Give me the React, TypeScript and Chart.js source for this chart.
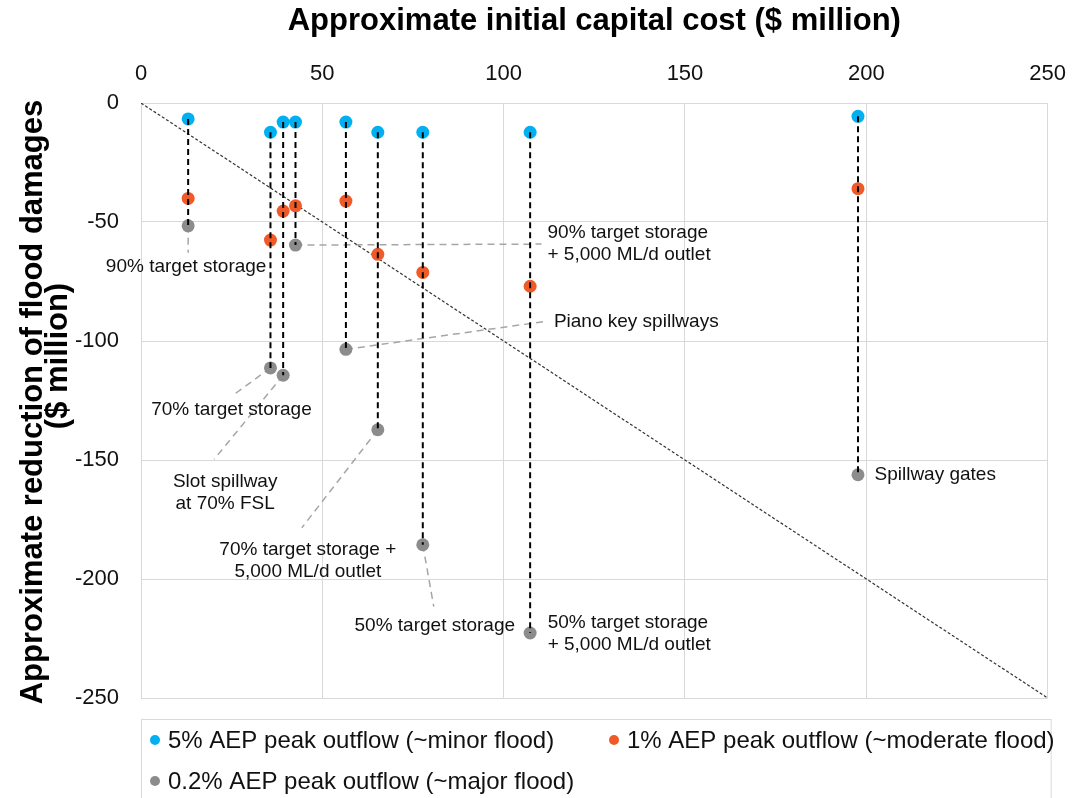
import React, { useEffect, useRef } from "react";
import { Chart, registerables } from "chart.js";

Chart.register(...registerables);

// ---- Data ----
const optionCost = [13, 35.7, 39.2, 42.6, 56.5, 65.3, 77.7, 107.3, 197.7];
const minorFlood = [-6.7, -12.3, -8, -8, -8, -12.3, -12.3, -12.3, -5.6];
const moderateFlood = [-40.1, -57.6, -45.4, -43.2, -41.2, -63.6, -71.2, -77, -36];
const majorFlood = [-51.6, -111.3, -114.4, -59.7, -103.5, -137.3, -185.6, -222.7, -156.2];
const optionNames = [
  "90% target storage",
  "70% target storage",
  "Slot spillway\nat 70% FSL",
  "90% target storage\n+ 5,000 ML/d outlet",
  "Piano key spillways",
  "70% target storage +\n5,000 ML/d outlet",
  "50% target storage",
  "50% target storage\n+ 5,000 ML/d outlet",
  "Spillway gates",
];
const seriesLabels = [
  "5% AEP peak outflow (~minor flood)",
  "1% AEP peak outflow (~moderate flood)",
  "0.2% AEP peak outflow (~major flood)",
];
const breakEvenX = [0, 250];
const breakEvenY = [0, -250];
const xTitle = "Approximate initial capital cost ($ million)";
const yTitle = ["Approximate reduction of flood damages", "($ million)"];

// ---- Layout / style (not data) ----
const FONT = "'Liberation Sans', Arial, sans-serif";
const COLORS = ["#00b0f0", "#f05a28", "#8c8c8c"];
const yTitlePos = [
  { x: 33, y: 402 },
  { x: 58, y: 356 },
];
const labelLayout: { dx: number; dy: number; align: CanvasTextAlign; leader?: [number, number] }[] = [
  { dx: -2, dy: 41, align: "center", leader: [0, 27] },
  { dx: -39, dy: 42, align: "center", leader: [-37, 27] },
  { dx: -58, dy: 106, align: "center", leader: [-69, 84] },
  { dx: 252, dy: -12.5, align: "left", leader: [246, -1] },
  { dx: 208, dy: -28, align: "left", leader: [200, -28] },
  { dx: -70, dy: 120, align: "center", leader: [-76, 98] },
  { dx: 12, dy: 81, align: "center", leader: [11, 62] },
  { dx: 17.5, dy: -10.5, align: "left" },
  { dx: 16.5, dy: 0, align: "left" },
];

const annotationPlugin = {
  id: "annotations",
  beforeDatasetsDraw(chart: any) {
    const { ctx, scales } = chart;
    const x = scales.x, y = scales.y;
    ctx.save();
    ctx.strokeStyle = "#a6a6a6";
    ctx.lineWidth = 1.5;
    ctx.setLineDash([7, 5]);
    labelLayout.forEach((l, i) => {
      if (!l.leader) return;
      const px = x.getPixelForValue(optionCost[i]);
      const py = y.getPixelForValue(majorFlood[i]);
      ctx.beginPath();
      ctx.moveTo(px, py);
      ctx.lineTo(px + l.leader[0], py + l.leader[1]);
      ctx.stroke();
    });
    ctx.restore();
  },
  afterDatasetsDraw(chart: any) {
    const { ctx, scales } = chart;
    const x = scales.x, y = scales.y;
    ctx.save();
    ctx.fillStyle = "#111";
    ctx.font = `19px ${FONT}`;
    ctx.textBaseline = "middle";
    labelLayout.forEach((l, i) => {
      const px = x.getPixelForValue(optionCost[i]);
      const py = y.getPixelForValue(majorFlood[i]);
      ctx.textAlign = l.align;
      optionNames[i].split("\n").forEach((line, k) => {
        ctx.fillText(line, px + l.dx, py + l.dy + k * 22);
      });
    });
    ctx.restore();
  },
  afterDraw(chart: any) {
    const { ctx, chartArea } = chart;
    ctx.save();
    // y axis title (two lines, rotated)
    ctx.fillStyle = "#000";
    ctx.font = `bold 31px ${FONT}`;
    ctx.textAlign = "center";
    ctx.textBaseline = "middle";
    yTitle.forEach((t, i) => {
      ctx.save();
      ctx.translate(yTitlePos[i].x, yTitlePos[i].y);
      ctx.rotate(-Math.PI / 2);
      ctx.fillText(t, 0, 0);
      ctx.restore();
    });
    // legend
    const boxTop = chartArea.bottom + 21;
    ctx.strokeStyle = "#d9d9d9";
    ctx.lineWidth = 1;
    ctx.strokeRect(chartArea.left + 0.5, boxTop + 0.5, chartArea.right - chartArea.left + 3, 120);
    ctx.font = `24px ${FONT}`;
    ctx.textBaseline = "middle";
    ctx.textAlign = "left";
    const items = [
      { x: chartArea.left + 14, y: boxTop + 21 },
      { x: chartArea.left + 473, y: boxTop + 21 },
      { x: chartArea.left + 14, y: boxTop + 62 },
    ];
    items.forEach((it, i) => {
      ctx.fillStyle = chart.data.datasets[9 + i].backgroundColor;
      ctx.beginPath();
      ctx.arc(it.x, it.y, 5, 0, Math.PI * 2);
      ctx.fill();
      ctx.fillStyle = "#111";
      ctx.fillText(seriesLabels[i], it.x + 13, it.y + 1);
    });
    ctx.restore();
  },
};

export default function App() {
  const ref = useRef<HTMLCanvasElement>(null);
  useEffect(() => {
    if (!ref.current) return;
    const connectors = optionCost.map((c, i) => ({
      label: "connector",
      data: [
        { x: c, y: minorFlood[i] },
        { x: c, y: majorFlood[i] },
      ],
      showLine: true,
      borderColor: "#000",
      borderWidth: 2,
      borderDash: [6, 4],
      pointRadius: 0,
      pointHoverRadius: 0,
    }));
    const series = [minorFlood, moderateFlood, majorFlood].map((vals, s) => ({
      label: seriesLabels[s],
      data: optionCost.map((c, i) => ({ x: c, y: vals[i] })),
      backgroundColor: COLORS[s],
      borderColor: COLORS[s],
      borderWidth: 0,
      pointRadius: 6.5,
      showLine: false,
    }));
    const diag = {
      label: "break-even",
      data: breakEvenX.map((v, i) => ({ x: v, y: breakEvenY[i] })),
      showLine: true,
      borderColor: "#333",
      borderWidth: 1.2,
      borderDash: [3, 2],
      pointRadius: 0,
    };
    const chart = new Chart(ref.current, {
      type: "scatter",
      data: { datasets: [...connectors, ...series, diag] as any },
      plugins: [annotationPlugin],
      options: {
        responsive: false,
        animation: false,
        devicePixelRatio: 1,
        events: [],
        layout: { padding: { left: 0, top: 0, right: 29, bottom: 100 } },
        plugins: { legend: { display: false }, tooltip: { enabled: false } },
        scales: {
          x: {
            type: "linear",
            position: "top",
            min: 0,
            max: 250,
            ticks: { stepSize: 50, color: "#111", font: { size: 22, family: FONT }, padding: 16 },
            grid: { color: "#d9d9d9", drawTicks: false },
            border: { display: true, color: "#d9d9d9" },
            title: {
              display: true,
              text: xTitle,
              color: "#000",
              font: { size: 31, weight: "bold", family: FONT },
              padding: { top: 3, bottom: 0 },
            },
            afterFit: (s: any) => {
              s.height = 103;
            },
          },
          y: {
            type: "linear",
            position: "left",
            min: -250,
            max: 0,
            ticks: { stepSize: 50, color: "#111", font: { size: 22, family: FONT }, padding: 22 },
            grid: { color: "#d9d9d9", drawTicks: false },
            border: { display: true, color: "#d9d9d9" },
            title: { display: false },
            afterFit: (s: any) => {
              s.width = 141;
            },
          },
        },
      } as any,
    });
    return () => chart.destroy();
  }, []);
  return (
    <div style={{ position: "absolute", left: 0, top: 0, width: 1082, height: 798, background: "#fff" }}>
      <canvas ref={ref} width={1082} height={798} />
    </div>
  );
}
